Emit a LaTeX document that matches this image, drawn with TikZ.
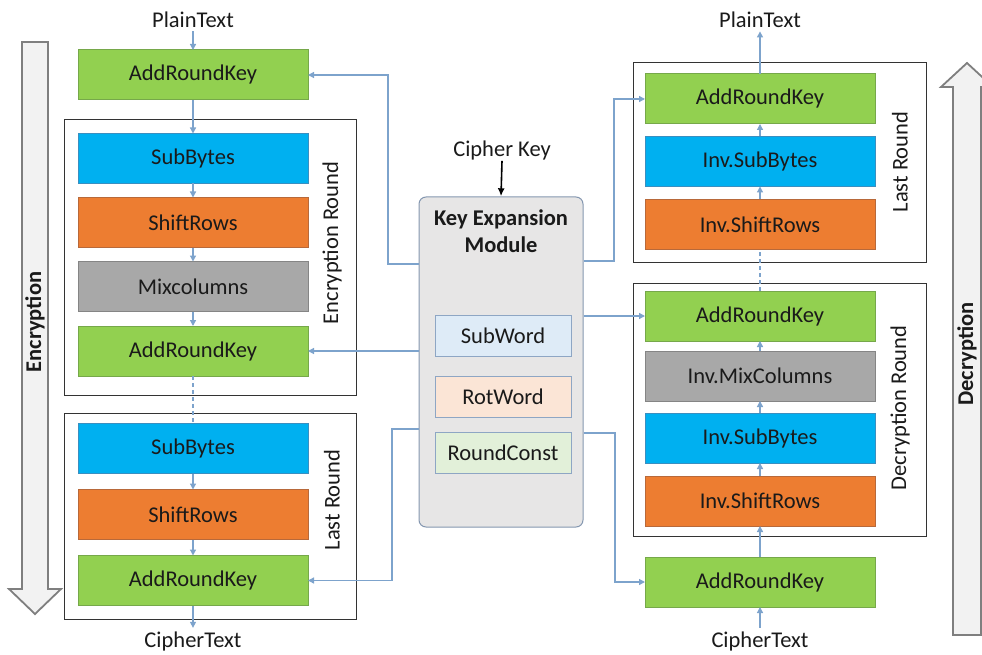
\documentclass[tikz,border=0pt]{standalone}
\usepackage{fontspec}
\setmainfont{Carlito}
\usetikzlibrary{arrows.meta}
\definecolor{cgreen}{HTML}{92D050}
\definecolor{cgreenb}{HTML}{76A84A}
\definecolor{cblue}{HTML}{00B0F0}
\definecolor{cblueb}{HTML}{3A8FC0}
\definecolor{corange}{HTML}{ED7D31}
\definecolor{corangeb}{HTML}{B8693A}
\definecolor{cgray}{HTML}{A8A8A8}
\definecolor{cgrayb}{HTML}{858585}
\definecolor{ckem}{HTML}{E7E6E6}
\definecolor{ckemb}{HTML}{8497B0}
\definecolor{csw}{HTML}{DEEBF7}
\definecolor{crw}{HTML}{FBE5D6}
\definecolor{crc}{HTML}{E2F0D9}
\definecolor{cinb}{HTML}{8EA6C4}
\definecolor{cconn}{HTML}{7DA3CC}
\definecolor{carrowf}{HTML}{F2F2F2}
\definecolor{carrowb}{HTML}{7F7F7F}
\definecolor{ctext}{HTML}{1A1A1A}
\tikzset{
  x=1pt, y=-1pt,
  every node/.style={font=\fontsize{22.5}{26}\selectfont, text=ctext},
  opbox/.style={rectangle, minimum width=230pt, minimum height=50pt, inner sep=0pt, outer sep=0pt, line width=1pt},
  ark/.style={opbox, fill=cgreen, draw=cgreenb},
  sbx/.style={opbox, fill=cblue, draw=cblueb},
  srx/.style={opbox, fill=corange, draw=corangeb},
  mcx/.style={opbox, fill=cgray, draw=cgrayb},
  frame/.style={draw=black!80, line width=1pt, fill=white},
  inbox/.style={rectangle, minimum width=136pt, minimum height=41pt, inner sep=0pt, draw=cinb, line width=1pt},
  conn/.style={draw=cconn, line width=1.3pt},
  arr/.style={conn, -{Triangle[length=6pt,width=6pt]}},
  bigarrow/.style={fill=carrowf, draw=carrowb, line width=1.8pt, line join=miter},
  rlabel/.style={rotate=90},
}
\begin{document}
\begin{tikzpicture}
\useasboundingbox (0,0) rectangle (982,655);
% big arrows
\draw[bigarrow] (22,42) -- (48,42) -- (48,589) -- (61,589) -- (35,614) -- (9,589) -- (22,589) -- cycle;
\node[rlabel, font=\fontsize{22.5}{26}\selectfont\bfseries] (enclab) at (35,322) {Encryption};
\draw[bigarrow] (953,635) -- (981,635) -- (981,87) -- (993,87) -- (967,63) -- (941,87) -- (953,87) -- cycle;
\node[rlabel, font=\fontsize{22.5}{26}\selectfont\bfseries] (declab) at (967,354) {Decryption};

% frames
\draw[frame] (64,120) rectangle (356,395);
\draw[frame] (64,413) rectangle (356,619);
\draw[frame] (633,63) rectangle (926,262);
\draw[frame] (633,283) rectangle (926,536);

% left column
\node (pt1) at (193,20) {PlainText};
\node[ark] (ark0) at (193,75) {AddRoundKey};
\node[sbx] (sb1) at (193,158.5) {SubBytes};
\node[srx] (sr1) at (193,222.5) {ShiftRows};
\node[mcx] (mc1) at (193,286.5) {Mixcolumns};
\node[ark] (ark1) at (193,351) {AddRoundKey};
\node[sbx] (sb2) at (193,448.5) {SubBytes};
\node[srx] (sr2) at (193,514.5) {ShiftRows};
\node[ark] (ark2) at (193,580.5) {AddRoundKey};
\node (ct1) at (193,641) {CipherText};
\node[rlabel] (erl) at (332,243) {Encryption Round};
\node[rlabel] (lrl1) at (332,500) {Last Round};

% right column
\node (pt2) at (760,20) {PlainText};
\node[ark] (dark1) at (760,99) {AddRoundKey};
\node[sbx] (dsb1) at (760,161.5) {Inv.SubBytes};
\node[srx] (dsr1) at (760,224.5) {Inv.ShiftRows};
\node[ark] (dark2) at (760,316) {AddRoundKey};
\node[mcx] (dmc) at (760,376) {Inv.MixColumns};
\node[sbx] (dsb2) at (760,438) {Inv.SubBytes};
\node[srx] (dsr2) at (760,501) {Inv.ShiftRows};
\node[ark] (dark0) at (760,582) {AddRoundKey};
\node (ct2) at (760,641) {CipherText};
\node[rlabel] (lrl2) at (900,162) {Last Round};
\node[rlabel] (drl) at (900,408) {Decryption Round};

% key expansion module
\node[inner sep=0pt] (ck) at (502,151) {Cipher Key};
\node[rectangle, rounded corners=7pt, minimum width=164pt, minimum height=330pt, inner sep=0pt, fill=ckem, draw=ckemb, line width=1pt] (kem) at (501,362) {};
\node[font=\fontsize{22.5}{27}\selectfont\bfseries, align=center] (kemt) at (501,231) {Key Expansion\\Module};
\node[inner sep=0pt, minimum size=0pt] (kemtop) at (kem.north) {};
\node[inbox, fill=csw] (sw) at (503,335.5) {SubWord};
\node[inbox, fill=crw] (rw) at (503,397) {RotWord};
\node[inbox, fill=crc] (rc) at (503,453) {RoundConst};
\draw[draw=black, line width=1.6pt, -{Latex[length=8pt,width=7pt]}] (ck.south) -- (kemtop);

% vertical flow left
\draw[arr] (pt1.south) -- (ark0.north);
\draw[arr] (ark0.south) -- (sb1.north);
\draw[arr] (sb1.south) -- (sr1.north);
\draw[arr] (sr1.south) -- (mc1.north);
\draw[arr] (mc1.south) -- (ark1.north);
\draw[conn, dashed, dash pattern=on 4pt off 3pt] (ark1.south) -- (sb2.north);
\draw[arr] (sb2.south) -- (sr2.north);
\draw[arr] (sr2.south) -- (ark2.north);
\draw[arr] (ark2.south) -- (ct1.north);

% vertical flow right
\draw[arr] (ct2.north) -- (dark0.south);
\draw[arr] (dark0.north) -- (dsr2.south);
\draw[arr] (dsr2.north) -- (dsb2.south);
\draw[arr] (dsb2.north) -- (dmc.south);
\draw[arr] (dmc.north) -- (dark2.south);
\draw[conn, dashed, dash pattern=on 4pt off 3pt] (dark2.north) -- (dsr1.south);
\draw[arr] (dsr1.north) -- (dsb1.south);
\draw[arr] (dsb1.north) -- (dark1.south);
\draw[arr] (dark1.north) -- (pt2.south);

% key connectors
\draw[arr] (kem.west |- {(0,264)}) -| (388,75) -- (ark0.east);
\draw[arr] (kem.west |- ark1) -- (ark1.east);
\draw[arr] (kem.west |- {(0,429)}) -| (392,580.5) -- (ark2.east);
\draw[arr] (kem.east |- {(0,261)}) -| (614,99) -- (dark1.west);
\draw[arr] (kem.east |- dark2) -- (dark2.west);
\draw[arr] (kem.east |- {(0,433)}) -| (615,582) -- (dark0.west);
\end{tikzpicture}
\end{document}
